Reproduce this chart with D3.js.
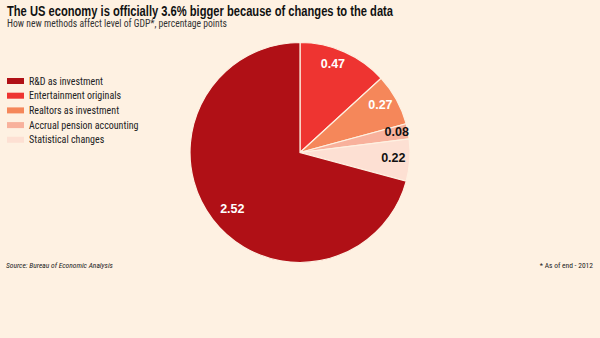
<!DOCTYPE html>
<html><head><meta charset="utf-8">
<script src="https://cdn.jsdelivr.net/npm/d3@7"></script>
<style>
body{margin:0;background:#fef1e2;}
svg{display:block;}
</style></head>
<body>
<svg id="c" width="600" height="338"></svg>
<script>
const categories = ["R&D as investment","Entertainment originals","Realtors as investment","Accrual pension accounting","Statistical changes"];
const values = [2.52,0.47,0.27,0.08,0.22];
const labels = ["2.52","0.47","0.27","0.08","0.22"];
const sliceOrder = [1,2,3,4,0];
const colors = ["#b01016","#ee3431","#f5875a","#f8b19c","#fde0d3"];
const labelColors = ["#fff","#fff","#fff","#111","#111"];

const svg = d3.select("#c");
svg.append("rect").attr("width",600).attr("height",338).attr("fill","#fef1e2");
const font = "'Liberation Sans Narrow','Roboto Condensed','Arial Narrow',sans-serif";

svg.append("text").attr("x",7).attr("y",16).attr("font-family","'Liberation Sans', Arial, sans-serif")
  .attr("font-weight","bold").attr("font-size",14.5).attr("fill","#111")
  .attr("textLength",386).attr("lengthAdjust","spacingAndGlyphs")
  .text("The US economy is officially 3.6% bigger because of changes to the data");
svg.append("text").attr("x",7).attr("y",27).attr("font-family",font)
  .attr("font-size",10).attr("fill","#333")
  .attr("textLength",220).attr("lengthAdjust","spacingAndGlyphs")
  .text("How new methods affect level of GDP*, percentage points");

const cx=300, cy=152.5, r=110;
const pie = d3.pie().sort(null).value(i=>values[i]);
const arcs = pie(sliceOrder);
const arc = d3.arc().innerRadius(0).outerRadius(r);
const g = svg.append("g").attr("transform",`translate(${cx},${cy})`);
g.selectAll("path").data(arcs).join("path")
  .attr("d",arc).attr("fill",d=>colors[d.data])
  .attr("stroke","#fef1e2").attr("stroke-width",1.2);

const labelR = {0:0.80,1:0.86,2:0.85,3:0.90,4:0.85};
const labelDA = {0:-2.3,1:-3.4,2:-1.9,3:-1.3,4:-0.6};
g.selectAll("text").data(arcs).join("text")
  .attr("transform",d=>{
    const a=(d.startAngle+d.endAngle)/2 + labelDA[d.data]*Math.PI/180, rr=r*labelR[d.data];
    return `translate(${Math.sin(a)*rr},${-Math.cos(a)*rr})`;})
  .attr("text-anchor","middle").attr("dy","0.35em")
  .attr("font-family","'Liberation Sans', Arial, sans-serif").attr("font-weight","bold")
  .attr("font-size",12.5).attr("fill",d=>labelColors[d.data])
  .text(d=>labels[d.data]);

const leg = svg.append("g");
categories.forEach((c,i)=>{
  const y = 81 + i*14.7;
  leg.append("rect").attr("x",7).attr("y",y-3).attr("width",17).attr("height",6).attr("fill",colors[i]);
  leg.append("text").attr("x",29).attr("y",y).attr("dy","0.35em")
    .attr("font-family",font).attr("font-size",10).attr("fill","#222").text(c);
});

svg.append("text").attr("x",6).attr("y",268).attr("font-family",font).attr("font-style","italic")
  .attr("font-size",7.5).attr("fill","#222").text("Source: Bureau of Economic Analysis");
svg.append("text").attr("x",593).attr("y",268).attr("text-anchor","end").attr("font-family",font)
  .attr("font-size",7.5).attr("fill","#222").text("* As of end - 2012");
</script>
</body></html>
